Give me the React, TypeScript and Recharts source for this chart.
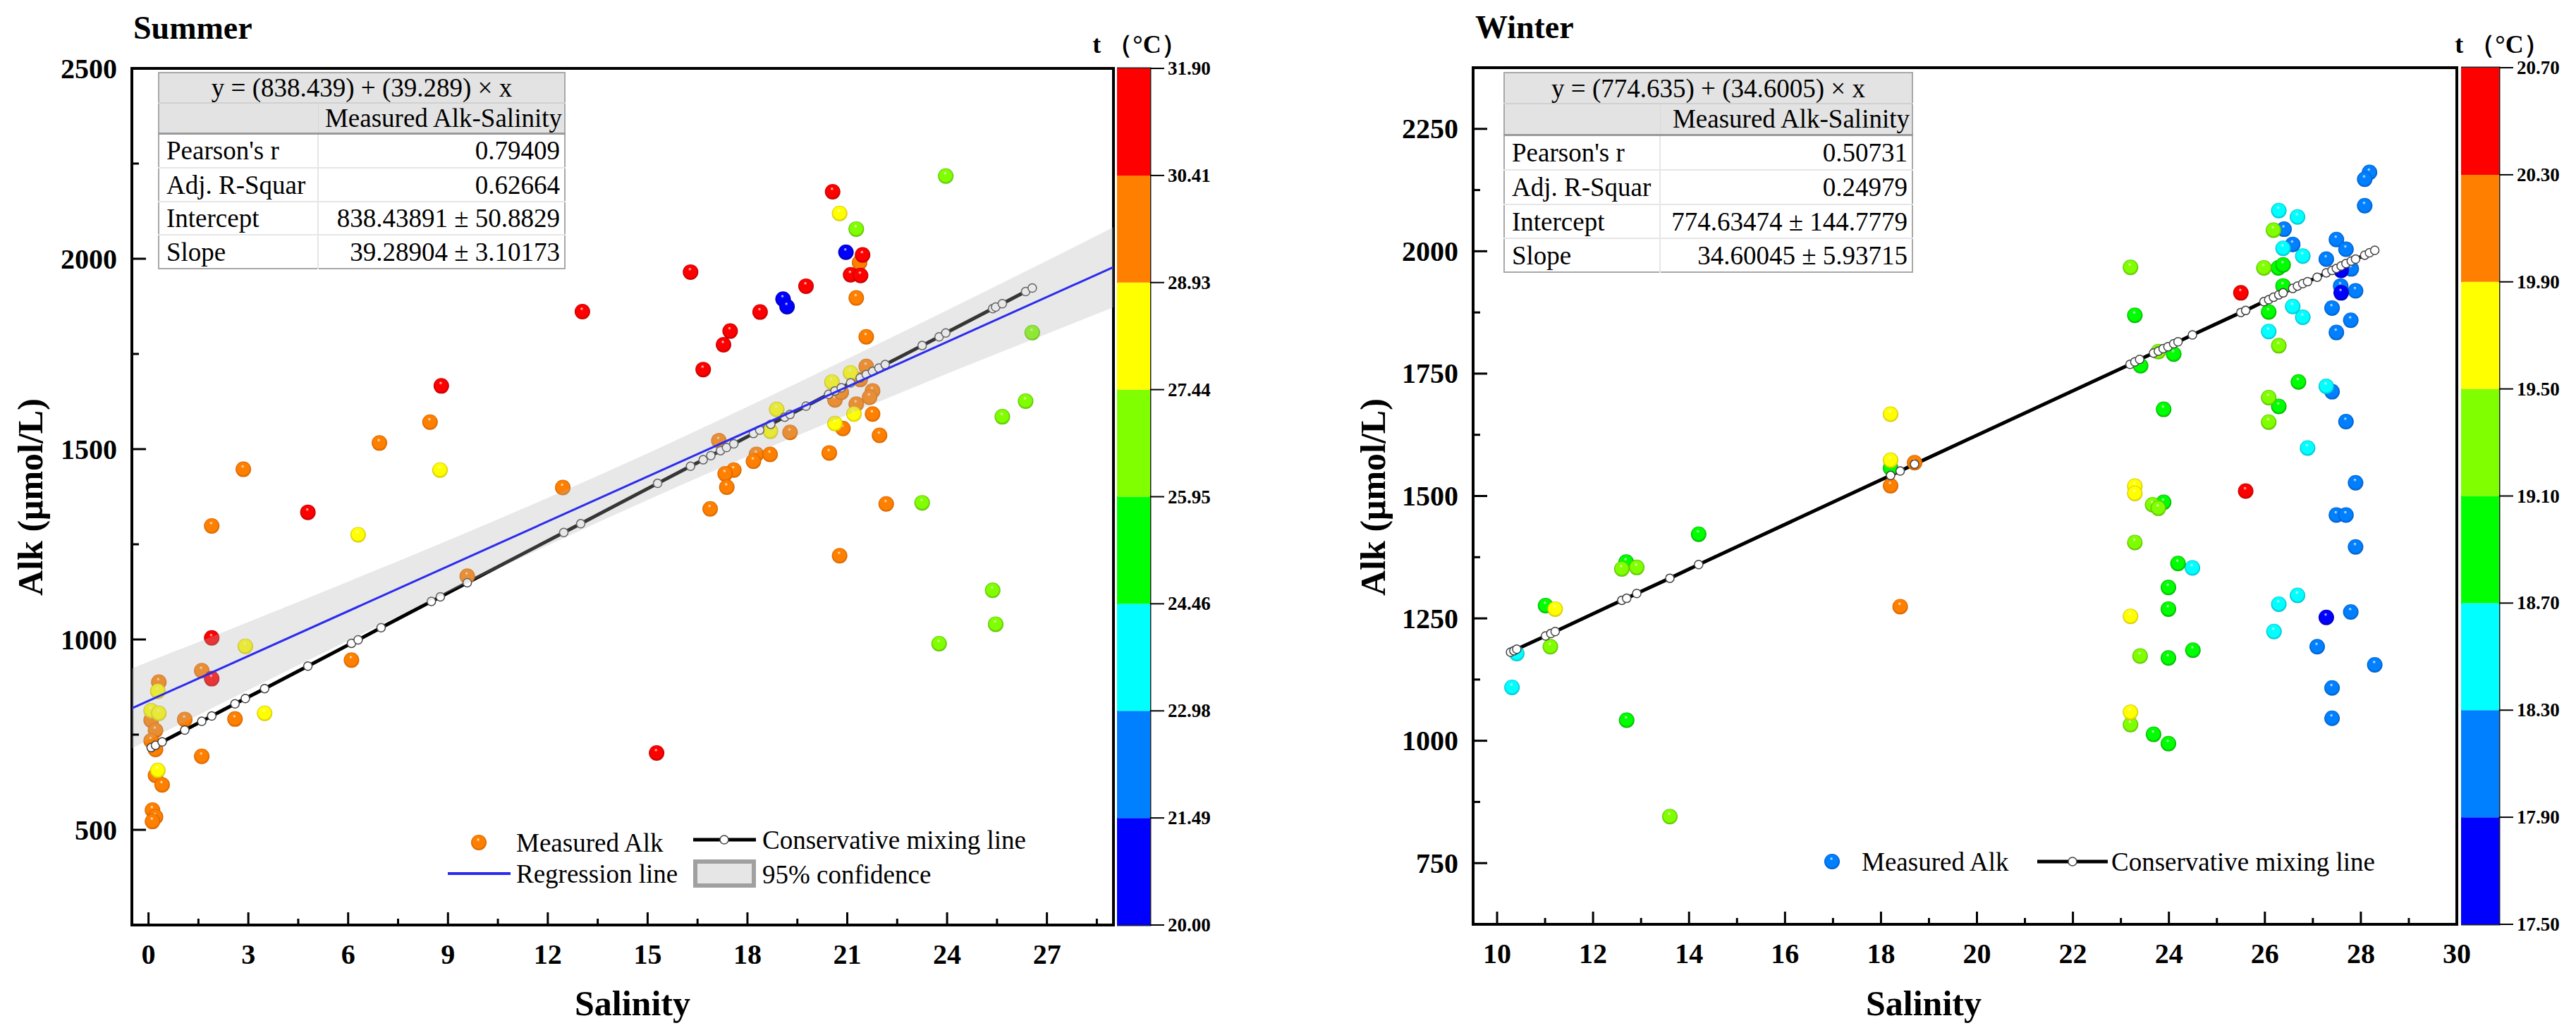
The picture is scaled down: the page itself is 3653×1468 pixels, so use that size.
import React from "react";
import {
  ComposedChart,
  BarChart,
  Bar,
  Scatter,
  Line,
  Area,
  XAxis,
  YAxis,
  ReferenceArea,
  Legend,
} from "recharts";

const FONT = "'Liberation Serif', 'Times New Roman', Times, serif";

// colour scale (bottom -> top)
const bandColors = ["#0000FF", "#0080FF", "#00FFFF", "#00FF00", "#80FF00", "#FFFF00", "#FF8000", "#FF0000"];
const bandDark = ["#0000A8", "#0058C0", "#00B8C8", "#00A800", "#58B800", "#D0C000", "#D06000", "#B80000"];
const summerTempTicks = ["20.00", "21.49", "22.98", "24.46", "25.95", "27.44", "28.93", "30.41", "31.90"];
const winterTempTicks = ["17.50", "17.90", "18.30", "18.70", "19.10", "19.50", "19.90", "20.30", "20.70"];

// axis ticks
const summerXTicks = [0, 1.5, 3, 4.5, 6, 7.5, 9, 10.5, 12, 13.5, 15, 16.5, 18, 19.5, 21, 22.5, 24, 25.5, 27, 28.5];
const summerYTicks = [500, 750, 1000, 1250, 1500, 1750, 2000, 2250, 2500];
const winterXTicks = [10, 11, 12, 13, 14, 15, 16, 17, 18, 19, 20, 21, 22, 23, 24, 25, 26, 27, 28, 29, 30];
const winterYTicks = [750, 875, 1000, 1125, 1250, 1375, 1500, 1625, 1750, 1875, 2000, 2125, 2250];

// ---- Summer: measured Alk [salinity, alk], grouped by temperature
const summerRed = [[1.9, 1004], [1.9, 897], [4.79, 1334], [8.8, 1666], [13.04, 1861], [15.27, 702], [16.29, 1965], [16.67, 1709], [17.28, 1774], [17.48, 1810], [18.38, 1860], [19.76, 1928], [20.56, 2176], [21.1, 1958], [21.4, 1956], [21.46, 2010]];
const summerOrange = [[1.9, 1298], [2.85, 1447], [6.94, 1516], [8.46, 1571], [9.58, 1166], [12.45, 1399], [1.6, 918], [0.31, 888], [6.1, 946], [0.08, 788], [0.21, 761], [0.08, 734], [0.21, 711], [1.09, 790], [2.6, 791], [1.6, 693], [0.21, 643], [0.41, 618], [0.12, 552], [0.21, 534], [0.12, 522], [21.37, 1990], [21.27, 1897], [21.57, 1795], [21.57, 1717], [21.39, 1683], [21.76, 1653], [21.67, 1636], [20.63, 1629], [20.82, 1649], [21.27, 1618], [20.87, 1554], [21.76, 1592], [21.97, 1536], [20.46, 1490], [19.28, 1544], [17.14, 1522], [18.27, 1486], [18.18, 1468], [18.68, 1486], [17.59, 1445], [17.33, 1435], [17.38, 1400], [16.88, 1343], [22.17, 1356], [20.77, 1220]];
const summerYellow = [[2.91, 982], [0.28, 864], [0.08, 813], [0.31, 806], [3.49, 806], [0.28, 656], [6.3, 1275], [8.76, 1445], [20.77, 2119], [20.54, 1676], [21.1, 1700], [21.2, 1592], [20.63, 1567], [18.88, 1604], [18.69, 1547]];
const summerYGreen = [[23.96, 2217], [21.27, 2078], [26.56, 1806], [26.36, 1626], [25.66, 1585], [23.25, 1359], [25.37, 1129], [25.46, 1040], [23.76, 989]];
const summerBlue = [[20.96, 2017], [19.07, 1894], [19.19, 1874]];
const summerGroups = [[29.7, summerOrange], [28.2, summerYellow], [26.7, summerYGreen], [31.2, summerRed], [20.7, summerBlue]];

// conservative mixing line markers [salinity, alk]
const summerMix = [[0.08, 716], [0.21, 722], [0.41, 731], [1.09, 762], [1.6, 785], [1.9, 799], [2.6, 831], [2.91, 845], [3.49, 871], [4.79, 930], [6.1, 990], [6.3, 999], [6.99, 1031], [8.5, 1100], [8.77, 1112], [9.58, 1149], [12.48, 1281], [12.99, 1304], [15.3, 1410], [16.29, 1455], [16.67, 1472], [16.9, 1483], [17.19, 1496], [17.37, 1504], [17.59, 1514], [18.18, 1541], [18.37, 1550], [18.7, 1565], [19.12, 1584], [19.28, 1591], [19.76, 1613], [20.44, 1644], [20.63, 1653], [20.82, 1661], [21.1, 1674], [21.39, 1687], [21.57, 1696], [21.76, 1704], [21.95, 1713], [22.14, 1722], [23.25, 1772], [23.76, 1795], [23.96, 1805], [25.37, 1869], [25.46, 1873], [25.66, 1882], [26.36, 1914], [26.56, 1923]];
// regression line ends and 95% band [salinity, low, high]
const summerFit = [[-0.5, 819], [29, 1978]];
const summerCI = [[-0.5, 714, 924], [3, 867, 1046], [6, 997, 1152], [9, 1124, 1260], [12, 1247, 1372], [15, 1366, 1489], [18, 1481, 1611], [21, 1590, 1737], [24, 1698, 1865], [27, 1803, 1995], [29, 1872, 2083]];
const summerEquation = "y = (838.439) + (39.289) × x";
const summerStats = [["Pearson's r", "0.79409"], ["Adj. R-Squar", "0.62664"], ["Intercept", "838.43891 ± 50.8829"], ["Slope", "39.28904 ± 3.10173"]];

// ---- Winter
const winterRed = [[25.5, 1915], [25.6, 1510]];
const winterOrange = [[18.2, 1521], [18.7, 1568], [18.4, 1274]];
const winterYellow = [[11.21, 1269], [18.2, 1667], [18.2, 1573], [23.29, 1520], [23.29, 1505], [23.2, 1254], [23.2, 1058]];
const winterYGreen = [[11.11, 1192], [12.6, 1351], [12.91, 1354], [13.6, 845], [23.2, 1967], [23.78, 1795], [23.66, 1482], [23.78, 1475], [23.29, 1405], [23.4, 1173], [23.2, 1033], [26.18, 2043], [25.98, 1966], [26.29, 1807], [26.08, 1701], [26.08, 1651]];
const winterGreen = [[11.01, 1276], [12.69, 1365], [14.2, 1422], [12.7, 1042], [18.2, 1557], [23.29, 1869], [23.41, 1766], [24.1, 1790], [23.89, 1677], [23.89, 1487], [24.19, 1362], [23.99, 1313], [23.99, 1269], [24.5, 1185], [23.99, 1169], [23.68, 1013], [23.99, 994], [26.28, 1966], [26.38, 1972], [26.38, 1929], [26.08, 1876], [26.7, 1733], [26.29, 1683]];
const winterCyan = [[10.41, 1178], [10.31, 1109], [24.49, 1353], [26.29, 2083], [26.68, 2070], [26.38, 2006], [26.79, 1990], [26.58, 1887], [26.79, 1865], [26.08, 1836], [27.28, 1724], [26.89, 1598], [26.68, 1297], [26.29, 1279], [26.19, 1223]];
const winterAzure = [[28.18, 2161], [28.08, 2147], [28.08, 2093], [26.4, 2045], [26.58, 2014], [27.49, 2024], [27.69, 2004], [27.28, 1984], [27.8, 1964], [27.89, 1919], [27.58, 1929], [27.4, 1884], [27.79, 1859], [27.49, 1834], [27.4, 1713], [27.69, 1652], [27.89, 1527], [27.49, 1461], [27.69, 1461], [27.89, 1396], [27.79, 1263], [27.09, 1192], [28.29, 1155], [27.4, 1108], [27.4, 1046]];
const winterBlue = [[27.59, 1961], [27.59, 1915], [27.28, 1252]];
const winterGroups = [[18.1, winterAzure], [18.5, winterCyan], [18.9, winterGreen], [19.3, winterYGreen], [19.7, winterYellow], [20.1, winterOrange], [20.5, winterRed], [17.7, winterBlue]];

const winterMix = [[10.28, 1181], [10.35, 1184], [10.41, 1187], [11.01, 1214], [11.12, 1219], [11.21, 1223], [12.6, 1287], [12.7, 1291], [12.91, 1301], [13.6, 1332], [14.2, 1360], [18.2, 1542], [18.4, 1551], [18.7, 1565], [23.19, 1769], [23.29, 1774], [23.39, 1779], [23.68, 1792], [23.78, 1796], [23.88, 1801], [23.98, 1805], [24.1, 1811], [24.19, 1815], [24.49, 1829], [25.5, 1875], [25.6, 1879], [25.98, 1897], [26.08, 1901], [26.18, 1906], [26.29, 1911], [26.38, 1915], [26.58, 1924], [26.68, 1929], [26.79, 1934], [26.89, 1938], [27.09, 1947], [27.28, 1956], [27.4, 1961], [27.49, 1965], [27.59, 1970], [27.69, 1975], [27.8, 1980], [27.89, 1984], [28.08, 1992], [28.18, 1997], [28.29, 2002]];
const winterEquation = "y = (774.635) + (34.6005) × x";
const winterStats = [["Pearson's r", "0.50731"], ["Adj. R-Squar", "0.24979"], ["Intercept", "774.63474 ± 144.7779"], ["Slope", "34.60045 ± 5.93715"]];

function bandOf(t: number, ticks: string[]) {
  for (let i = 0; i < 8; i++) if (t >= +ticks[i] && t < +ticks[i + 1]) return i;
  return 7;
}
const toPts = (groups: any[], ticks: string[]) =>
  groups.flatMap(([t, pts]) => pts.map(([x, y]: number[]) => ({ x, y, band: bandOf(t, ticks) })));
const toXY = (rows: number[][]) => rows.map(([x, y]) => ({ x, y }));

const summerPts = toPts(summerGroups, summerTempTicks);
const winterPts = toPts(winterGroups, winterTempTicks);

function Ball(props: any) {
  const { cx, cy, payload } = props;
  if (cx == null || cy == null) return <g />;
  return <circle cx={cx} cy={cy} r={11} fill={`url(#ball${payload.band})`} />;
}

function BottomTick(props: any) {
  const { x, y, payload, step } = props;
  const v = payload.value;
  const major = Math.abs(v / step - Math.round(v / step)) < 1e-6;
  return (
    <g>
      <line x1={x} x2={x} y1={y} y2={y - (major ? 18 : 9)} stroke="#000" strokeWidth={3} />
      {major && (
        <text x={x} y={y + 55} textAnchor="middle" fontFamily={FONT} fontWeight="bold" fontSize={40} fill="#000">
          {v}
        </text>
      )}
    </g>
  );
}

function LeftTick(props: any) {
  const { x, y, payload, step } = props;
  const v = payload.value;
  const major = v % step === 0;
  return (
    <g>
      <line x1={x} x2={x + (major ? 20 : 10)} y1={y} y2={y} stroke="#000" strokeWidth={3} />
      {major && (
        <text x={x - 21} y={y} textAnchor="end" dominantBaseline="central" fontFamily={FONT} fontWeight="bold" fontSize={40} fill="#000">
          {v}
        </text>
      )}
    </g>
  );
}

function BarTick(props: any) {
  const { x, y, payload, labels } = props;
  return (
    <g>
      <line x1={x} x2={x + 20} y1={y} y2={y} stroke="#000" strokeWidth={2} />
      <text x={x + 25} y={y} dominantBaseline="central" fontFamily={FONT} fontWeight="bold" fontSize={27} fill="#000">
        {labels[payload.value]}
      </text>
    </g>
  );
}

function SummerLegend() {
  return (
    <svg width={720} height={110} style={{ overflow: "visible" }}>
      <circle cx={59} cy={35} r={11} fill="url(#ball6)" />
      <text x={112} y={35} dominantBaseline="central" fontFamily={FONT} fontSize={37}>Measured Alk</text>
      <line x1={15} x2={104} y1={79} y2={79} stroke="#2B2BEF" strokeWidth={4} />
      <text x={112} y={79} dominantBaseline="central" fontFamily={FONT} fontSize={37}>Regression line</text>
      <line x1={363} x2={452} y1={31} y2={31} stroke="#000" strokeWidth={5} />
      <circle cx={407} cy={31} r={6} fill="#fff" stroke="#444" strokeWidth={1.5} />
      <text x={461} y={31} dominantBaseline="central" fontFamily={FONT} fontSize={37}>Conservative mixing line</text>
      <rect x={366} y={62} width={83} height={34} fill="#E6E6E6" stroke="#A0A0A0" strokeWidth={6} />
      <text x={461} y={80} dominantBaseline="central" fontFamily={FONT} fontSize={37}>95% confidence</text>
    </svg>
  );
}

function WinterLegend() {
  return (
    <svg width={820} height={80} style={{ overflow: "visible" }}>
      <circle cx={38} cy={42} r={11} fill="url(#ball1)" />
      <text x={80} y={42} dominantBaseline="central" fontFamily={FONT} fontSize={37}>Measured Alk</text>
      <line x1={329} x2={429} y1={42} y2={42} stroke="#000" strokeWidth={5} />
      <circle cx={379} cy={42} r={6} fill="#fff" stroke="#444" strokeWidth={1.5} />
      <text x={434} y={42} dominantBaseline="central" fontFamily={FONT} fontSize={37}>Conservative mixing line</text>
    </svg>
  );
}

function StatsTable({ left, top, width, col1, rowH, equation, stats }: any) {
  const cell: React.CSSProperties = { padding: 0, fontFamily: FONT, fontSize: 37, lineHeight: 1, whiteSpace: "nowrap", overflow: "visible" };
  return (
    <table
      style={{
        position: "absolute",
        left,
        top,
        width,
        borderCollapse: "collapse",
        border: "2px solid #A8A8A8",
        background: "#fff",
        tableLayout: "fixed",
      }}
    >
      <colgroup>
        <col style={{ width: col1 }} />
        <col />
      </colgroup>
      <tbody>
        <tr style={{ height: rowH[0], background: "#E3E3E3" }}>
          <td colSpan={2} style={{ ...cell, textAlign: "center", borderBottom: "2px solid #D0D0D0" }}>{equation}</td>
        </tr>
        <tr style={{ height: rowH[1], background: "#E3E3E3", borderBottom: "3px solid #9A9A9A" }}>
          <td style={{ ...cell, borderRight: "1px solid #D8D8D8" }} />
          <td style={{ ...cell, textAlign: "right", paddingRight: 3 }}>Measured Alk-Salinity</td>
        </tr>
        {stats.map(([k, v]: string[], i: number) => (
          <tr key={k} style={{ height: rowH[i + 2], borderTop: "2px solid #E6E6E6" }}>
            <td style={{ ...cell, paddingLeft: 10, borderRight: "2px solid #E6E6E6" }}>{k}</td>
            <td style={{ ...cell, textAlign: "right", paddingRight: 6 }}>{v}</td>
          </tr>
        ))}
      </tbody>
    </table>
  );
}

function ColorBar({ left, top, bottom, plotW, labels }: any) {
  const row: any = { name: "t" };
  bandColors.forEach((_, i) => (row[`b${i}`] = 1));
  return (
    <div style={{ position: "absolute", left, top: 0 }}>
      <BarChart width={160} height={1468} data={[row]} margin={{ top, right: 160 - plotW - 1, bottom, left: 0 }} barCategoryGap={0} barGap={0}>
        <XAxis dataKey="name" hide />
        <YAxis
          orientation="right"
          type="number"
          domain={[0, 8]}
          ticks={[0, 1, 2, 3, 4, 5, 6, 7, 8]}
          interval={0}
          width={1}
          tickSize={0}
          tickMargin={0}
          tickLine={false}
          axisLine={false}
          tick={(p: any) => <BarTick {...p} labels={labels} />}
        />
        {bandColors.map((c, i) => (
          <Bar key={c} dataKey={`b${i}`} stackId="t" fill={c} isAnimationActive={false} />
        ))}
        <ReferenceArea y1={0} y2={8} fill="none" stroke="#222" strokeWidth={3} ifOverflow="visible" />
      </BarChart>
    </div>
  );
}

const axisLine = { stroke: "#000", strokeWidth: 4 };

export default function App() {
  return (
    <div style={{ position: "relative", width: 3653, height: 1468, background: "#fff", overflow: "hidden" }}>
      <style>{`body{margin:0}`}</style>
      <svg width={0} height={0} style={{ position: "absolute" }}>
        <defs>
          {bandColors.map((c, i) => (
            <radialGradient key={c} id={`ball${i}`} cx="50%" cy="50%" r="50%" fx="45%" fy="28%">
              <stop offset="0%" stopColor="#ffffff" />
              <stop offset="22%" stopColor={c} />
              <stop offset="78%" stopColor={c} />
              <stop offset="100%" stopColor={bandDark[i]} />
            </radialGradient>
          ))}
        </defs>
      </svg>

      {/* Summer */}
      <div style={{ position: "absolute", left: 0, top: 0 }}>
        <ComposedChart width={1600} height={1468} margin={{ top: 97, right: 21, bottom: 155, left: 186 }}>
          <XAxis
            type="number"
            dataKey="x"
            domain={[-0.5, 29]}
            allowDataOverflow
            ticks={summerXTicks}
            interval={0}
            height={1}
            tickSize={0}
            tickMargin={0}
            tickLine={false}
            axisLine={axisLine}
            tick={(p: any) => <BottomTick {...p} step={3} />}
          />
          <YAxis
            type="number"
            dataKey="y"
            domain={[250, 2500]}
            allowDataOverflow
            ticks={summerYTicks}
            interval={0}
            width={1}
            tickSize={0}
            tickMargin={0}
            tickLine={false}
            axisLine={axisLine}
            tick={(p: any) => <LeftTick {...p} step={500} />}
          />
          <ReferenceArea x1={-0.5} x2={29} y1={250} y2={2500} fill="none" stroke="#000" strokeWidth={4} ifOverflow="visible" />
          <Scatter data={summerPts} shape={Ball} isAnimationActive={false} legendType="none" />
          <Line data={toXY(summerMix)} dataKey="y" type="linear" stroke="#000" strokeWidth={5} dot={{ r: 6, fill: "#fff", stroke: "#444", strokeWidth: 1.5 }} isAnimationActive={false} legendType="none" />
          <Area
            data={summerCI.map(([x, lo, hi]) => ({ x, lo, hi }))}
            dataKey={(d: any) => [d.lo, d.hi]}
            type="monotone"
            stroke="none"
            fill="#B4B4B4"
            fillOpacity={0.3}
            isAnimationActive={false}
            legendType="none"
            zIndex={700}
          />
          <Line data={toXY(summerFit)} dataKey="y" type="linear" stroke="#2B2BEF" strokeWidth={3} dot={false} isAnimationActive={false} legendType="none" zIndex={800} />
          <Legend layout="vertical" align="center" verticalAlign="middle" wrapperStyle={{ left: 620, top: 1160, width: 720 }} content={() => <SummerLegend />} />
        </ComposedChart>
      </div>

      {/* Winter */}
      <div style={{ position: "absolute", left: 1900, top: 0 }}>
        <ComposedChart width={1660} height={1468} margin={{ top: 96, right: 76, bottom: 156, left: 188 }}>
          <XAxis
            type="number"
            dataKey="x"
            domain={[9.5, 30]}
            allowDataOverflow
            ticks={winterXTicks}
            interval={0}
            height={1}
            tickSize={0}
            tickMargin={0}
            tickLine={false}
            axisLine={axisLine}
            tick={(p: any) => <BottomTick {...p} step={2} />}
          />
          <YAxis
            type="number"
            dataKey="y"
            domain={[625, 2375]}
            allowDataOverflow
            ticks={winterYTicks}
            interval={0}
            width={1}
            tickSize={0}
            tickMargin={0}
            tickLine={false}
            axisLine={axisLine}
            tick={(p: any) => <LeftTick {...p} step={250} />}
          />
          <ReferenceArea x1={9.5} x2={30} y1={625} y2={2375} fill="none" stroke="#000" strokeWidth={4} ifOverflow="visible" />
          <Scatter data={winterPts} shape={Ball} isAnimationActive={false} legendType="none" />
          <Line data={toXY(winterMix)} dataKey="y" type="linear" stroke="#000" strokeWidth={5} dot={{ r: 6, fill: "#fff", stroke: "#444", strokeWidth: 1.5 }} isAnimationActive={false} legendType="none" />
          <Legend layout="vertical" align="center" verticalAlign="middle" wrapperStyle={{ left: 660, top: 1180, width: 820 }} content={() => <WinterLegend />} />
        </ComposedChart>
      </div>

      <ColorBar left={1584} top={97} bottom={156} plotW={47} labels={summerTempTicks} />
      <ColorBar left={3490} top={96} bottom={157} plotW={54} labels={winterTempTicks} />

      <StatsTable left={224} top={102} width={578} col1={226} rowH={[43, 43, 49, 48, 47, 48]} equation={summerEquation} stats={summerStats} />
      <StatsTable left={2132} top={102} width={581} col1={221} rowH={[44, 44, 50, 49, 48, 48]} equation={winterEquation} stats={winterStats} />

      <svg width={3653} height={1468} style={{ position: "absolute", left: 0, top: 0, pointerEvents: "none" }} fontFamily={FONT}>
        <text x={189} y={55} fontWeight="bold" fontSize={46}>Summer</text>
        <text x={2092} y={54} fontWeight="bold" fontSize={46}>Winter</text>
        <text x={897} y={1440} textAnchor="middle" fontWeight="bold" fontSize={50}>Salinity</text>
        <text x={2728} y={1440} textAnchor="middle" fontWeight="bold" fontSize={50}>Salinity</text>
        <text transform="translate(43,705) rotate(-90)" textAnchor="middle" dominantBaseline="central" fontWeight="bold" fontSize={50}>Alk (μmol/L)</text>
        <text transform="translate(1947,705) rotate(-90)" textAnchor="middle" dominantBaseline="central" fontWeight="bold" fontSize={50}>Alk (μmol/L)</text>
        <text x={1616} y={63} textAnchor="middle" dominantBaseline="central" fontWeight="bold" fontSize={36}>t （°C）</text>
        <text x={3548} y={63} textAnchor="middle" dominantBaseline="central" fontWeight="bold" fontSize={36}>t （°C）</text>
      </svg>
    </div>
  );
}
